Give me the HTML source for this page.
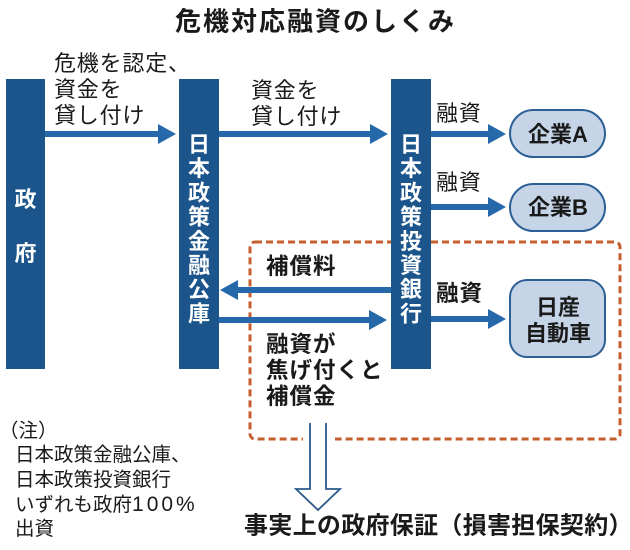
<!DOCTYPE html>
<html>
<head>
<meta charset="utf-8">
<style>
  html,body{margin:0;padding:0;background:#fff;}
  svg{display:block;}
  text{font-family:"Liberation Sans","Noto Sans CJK JP",sans-serif;}
</style>
</head>
<body>
<svg width="630" height="550" viewBox="0 0 630 550" xmlns="http://www.w3.org/2000/svg">
  <rect x="0" y="0" width="630" height="550" fill="#fff"/>

  <!-- Title -->
  <text x="175" y="30.5" font-size="26" font-weight="bold" letter-spacing="2" fill="#1a1a1a">危機対応融資のしくみ</text>

  <!-- Dashed box -->
  <rect x="250" y="242" width="370" height="197" rx="5" ry="5" fill="none" stroke="#c65d2c" stroke-width="3" stroke-dasharray="7 4"/>
  <rect x="303" y="434" width="32" height="10" fill="#fff"/>

  <!-- Bars -->
  <rect x="6" y="79" width="39" height="290" fill="#1b558c"/>
  <rect x="179" y="79" width="40" height="290" fill="#1b558c"/>
  <rect x="391" y="79" width="40" height="290" fill="#1b558c"/>

  <!-- Bar texts -->
  <g font-size="22" font-weight="bold" fill="#fff" text-anchor="middle">
    <text x="25.5" y="207">政</text>
    <text x="25.5" y="261">府</text>

    <text x="199" y="152">日</text>
    <text x="199" y="176.2">本</text>
    <text x="199" y="200.4">政</text>
    <text x="199" y="224.6">策</text>
    <text x="199" y="248.8">金</text>
    <text x="199" y="273">融</text>
    <text x="199" y="297.2">公</text>
    <text x="199" y="321.4">庫</text>

    <text x="411" y="152">日</text>
    <text x="411" y="176.2">本</text>
    <text x="411" y="200.4">政</text>
    <text x="411" y="224.6">策</text>
    <text x="411" y="248.8">投</text>
    <text x="411" y="273">資</text>
    <text x="411" y="297.2">銀</text>
    <text x="411" y="321.4">行</text>
  </g>

  <!-- Arrows -->
  <g fill="#2669aa">
    <rect x="45" y="131" width="115" height="6"/>
    <polygon points="158,124 176,134 158,144"/>

    <rect x="219" y="131" width="153" height="6"/>
    <polygon points="370,124 388,134 370,144"/>

    <rect x="431" y="131" width="59" height="6"/>
    <polygon points="488,124 506,134 488,144"/>

    <rect x="431" y="204" width="59" height="6"/>
    <polygon points="488,197 506,207 488,217"/>

    <rect x="236" y="287" width="155" height="6"/>
    <polygon points="238,280 220,290 238,300"/>

    <rect x="219" y="317" width="152" height="6"/>
    <polygon points="369,310 387,320 369,330"/>

    <rect x="431" y="316" width="59" height="6"/>
    <polygon points="488,309 506,319 488,329"/>
  </g>

  <!-- Company pills -->
  <rect x="510" y="110" width="95" height="47" rx="23.5" ry="23.5" fill="#c5d4e6" stroke="#2c5f96" stroke-width="2"/>
  <rect x="510" y="184" width="95" height="47" rx="23.5" ry="23.5" fill="#c5d4e6" stroke="#2c5f96" stroke-width="2"/>
  <rect x="510" y="280" width="95" height="77" rx="17" ry="17" fill="#c5d4e6" stroke="#2c5f96" stroke-width="2"/>
  <g font-size="22" font-weight="bold" fill="#1a1a1a" text-anchor="middle">
    <text x="558" y="142">企業A</text>
    <text x="558" y="215">企業B</text>
    <text x="558" y="315">日産</text>
    <text x="558" y="341">自動車</text>
  </g>

  <!-- Labels (regular) -->
  <g font-size="22" fill="#1a1a1a" letter-spacing="0.8">
    <text x="54" y="71">危機を認定、</text>
    <text x="54" y="97">資金を</text>
    <text x="54" y="123">貸し付け</text>

    <text x="251" y="98">資金を</text>
    <text x="251" y="124">貸し付け</text>

    <text x="436" y="121">融資</text>
    <text x="436" y="190">融資</text>
  </g>

  <!-- Labels (bold) -->
  <g font-size="22.5" font-weight="bold" fill="#1a1a1a" letter-spacing="1">
    <text x="266" y="274">補償料</text>
    <text x="266" y="352">融資が</text>
    <text x="266" y="378">焦げ付くと</text>
    <text x="266" y="404">補償金</text>
    <text x="436" y="301">融資</text>
  </g>

  <!-- Hollow down arrow -->
  <path d="M310,423 L310,489 L296,489 L318,510 L340,489 L326,489 L326,423" fill="#fff" stroke="#2b5a8a" stroke-width="1.8" stroke-linejoin="miter"/>

  <!-- Bottom text -->
  <text x="244" y="533.5" font-size="24" font-weight="bold" letter-spacing="0.3" fill="#1a1a1a">事実上の政府保証（損害担保契約）</text>

  <!-- Notes -->
  <g font-size="19.5" fill="#1a1a1a">
    <text x="-1" y="437">（注）</text>
    <text x="15" y="461">日本政策金融公庫、</text>
    <text x="15" y="486">日本政策投資銀行</text>
    <text x="15" y="511">いずれも政府<tspan font-size="21" letter-spacing="3">100%</tspan></text>
    <text x="15" y="535">出資</text>
  </g>
</svg>
</body>
</html>
